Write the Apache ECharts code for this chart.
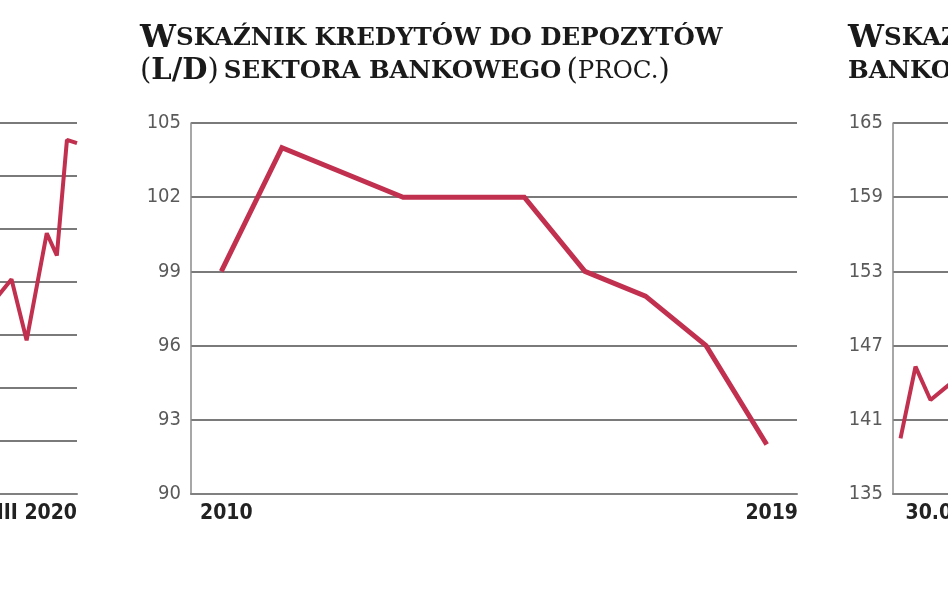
<!DOCTYPE html>
<html>
<head>
<meta charset="utf-8">
<script src="https://cdn.jsdelivr.net/npm/echarts@6/dist/echarts.min.js"></script>
<style>
  html, body { margin: 0; padding: 0; background: #ffffff; }
  #chart { width: 948px; height: 593px; }
</style>
</head>
<body>
<div id="chart"></div>
<script>
// ---- Main chart: loan-to-deposit ratio of the banking sector (%) ----
const years = ['2010', '2011', '2012', '2013', '2014', '2015', '2016', '2017', '2018', '2019'];
const ldRatio = [99, 104, null, 102, null, 102, 99, 98, 96, 92];
const ldTicks = { min: 90, max: 105, interval: 3 };

// ---- Left neighbour chart (cut off), monthly ----
const leftMonths = [
  'I 2018', 'II 2018', 'III 2018', 'IV 2018', 'V 2018', 'VI 2018', 'VII 2018', 'VIII 2018', 'IX 2018',
  'X 2018', 'XI 2018', 'XII 2018', 'I 2019', 'II 2019', 'III 2019', 'IV 2019', 'V 2019', 'VI 2019',
  'VII 2019', 'VIII 2019', 'IX 2019', 'X 2019', 'XI 2019', 'XII 2019', 'I 2020', 'II 2020', 'III 2020'
];
const leftValues = [
  null, null, null, null, null, null, null, null, null,
  null, 3.7, null, null, 4.05, null, null, 2.9, null,
  null, null, 4.92, null, 4.5, null, 6.68, null, 6.62
];
const leftTicks = { min: 0, max: 7, interval: 1 };

// ---- Right neighbour chart (cut off), quarterly ----
const rightDates = [
  '30.06.2017', '30.09.2017', '31.12.2017', '31.03.2018', '30.06.2018', '30.09.2018',
  '31.12.2018', '31.03.2019', '30.06.2019', '30.09.2019', '31.12.2019', '31.03.2020'
];
const rightValues = [139.5, 145.3, 142.6, 143.6, 144.6, null, null, null, null, null, null, null];
const rightTicks = { min: 135, max: 165, interval: 6 };

const titleMain = '{big|W}{sc|SKAŹNIK KREDYTÓW DO DEPOZYTÓW}\n{par|(}{bigb|L/D}{par|)} {sc|SEKTORA BANKOWEGO} {par|(}{scr|PROC.}{par|)}';
const titleRight = '{big|W}{sc|SKAŹNIK WYPŁACALNOŚCI SEKTORA}\n{sc|BANKOWEGO (PROC.)}';

const RED = '#c1304f';
const GRID = '#7a7a7a';
const numFont = '"Liberation Sans Narrow", "DejaVu Sans Condensed", sans-serif';
const serif = '"DejaVu Serif", serif';

const richTitle = {
  big:  { fontFamily: serif, fontWeight: 'bold', fontSize: 32, color: '#1a1a1a', lineHeight: 33 },
  bigb: { fontFamily: serif, fontWeight: 'bold', fontSize: 29, color: '#1a1a1a', lineHeight: 33 },
  sc:   { fontFamily: serif, fontWeight: 'bold', fontSize: 24.5, color: '#1a1a1a', lineHeight: 33 },
  scr:  { fontFamily: serif, fontWeight: 'normal', fontSize: 24.5, color: '#1a1a1a', lineHeight: 33 },
  par:  { fontFamily: serif, fontWeight: 'normal', fontSize: 29, color: '#1a1a1a', lineHeight: 33 }
};

function yAxisFor(gridIndex, ticks, showLine) {
  return {
    type: 'value', gridIndex: gridIndex,
    min: ticks.min, max: ticks.max, interval: ticks.interval,
    axisLine: { show: showLine, lineStyle: { color: '#8a8a8a', width: 1.5 } },
    axisTick: { show: false },
    axisLabel: { show: true, color: '#5a5a5a', fontFamily: numFont, fontSize: 20, margin: 10 },
    splitLine: { show: true, lineStyle: { color: GRID, width: 2 } }
  };
}

const option = {
  backgroundColor: '#ffffff',
  animation: false,
  title: [
    { text: titleMain, left: 140, top: 22, padding: 0, textStyle: { rich: richTitle } },
    { text: titleRight, left: 848, top: 22, padding: 0, textStyle: { rich: richTitle } }
  ],
  grid: [
    { left: 191, top: 123, width: 606, height: 371, outerBoundsMode: 'none', containLabel: false },
    { left: -54, top: 123, width: 131, height: 371, outerBoundsMode: 'none', containLabel: false },
    { left: 893, top: 123, width: 180, height: 371, outerBoundsMode: 'none', containLabel: false }
  ],
  xAxis: [
    {
      type: 'category', gridIndex: 0, data: years, boundaryGap: true,
      axisLine: { show: true, lineStyle: { color: '#808080', width: 2 } },
      axisTick: { show: false },
      axisLabel: {
        interval: function (i) { return i === 0 || i === years.length - 1; },
        color: '#222', fontFamily: numFont, fontSize: 21, fontWeight: 'bold', margin: 9,
        padding: [0, 0, 0, 10]
      }
    },
    {
      type: 'category', gridIndex: 1, data: leftMonths, boundaryGap: false,
      axisLine: { show: true, lineStyle: { color: '#808080', width: 2 } },
      axisTick: { show: false },
      axisLabel: {
        interval: function (i) { return i === leftMonths.length - 1; },
        showMaxLabel: true,
        align: 'right', color: '#222', fontFamily: numFont, fontSize: 21, fontWeight: 'bold', margin: 9,
        padding: [0, 0, 0, 0]
      }
    },
    {
      type: 'category', gridIndex: 2, data: rightDates, boundaryGap: true,
      axisLine: { show: true, lineStyle: { color: '#808080', width: 2 } },
      axisTick: { show: false },
      axisLabel: {
        interval: function (i) { return i === 0; },
        align: 'left', color: '#222', fontFamily: numFont, fontSize: 21, fontWeight: 'bold', margin: 9,
        padding: [0, 0, 0, 5]
      }
    }
  ],
  yAxis: [
    yAxisFor(0, ldTicks, true),
    Object.assign(yAxisFor(1, leftTicks, false), { axisLabel: { show: false } }),
    yAxisFor(2, rightTicks, true)
  ],
  series: [
    {
      type: 'line', xAxisIndex: 0, yAxisIndex: 0, data: ldRatio, connectNulls: true,
      symbol: 'none', lineStyle: { color: RED, width: 5, join: 'miter' }
    },
    {
      type: 'line', xAxisIndex: 1, yAxisIndex: 1, data: leftValues, connectNulls: true,
      symbol: 'none', lineStyle: { color: RED, width: 4 }
    },
    {
      type: 'line', xAxisIndex: 2, yAxisIndex: 2, data: rightValues, connectNulls: false,
      symbol: 'none', lineStyle: { color: RED, width: 4 }
    }
  ]
};

const chart = echarts.init(document.getElementById('chart'), null, { renderer: 'canvas' });
chart.setOption(option);
</script>
</body>
</html>
